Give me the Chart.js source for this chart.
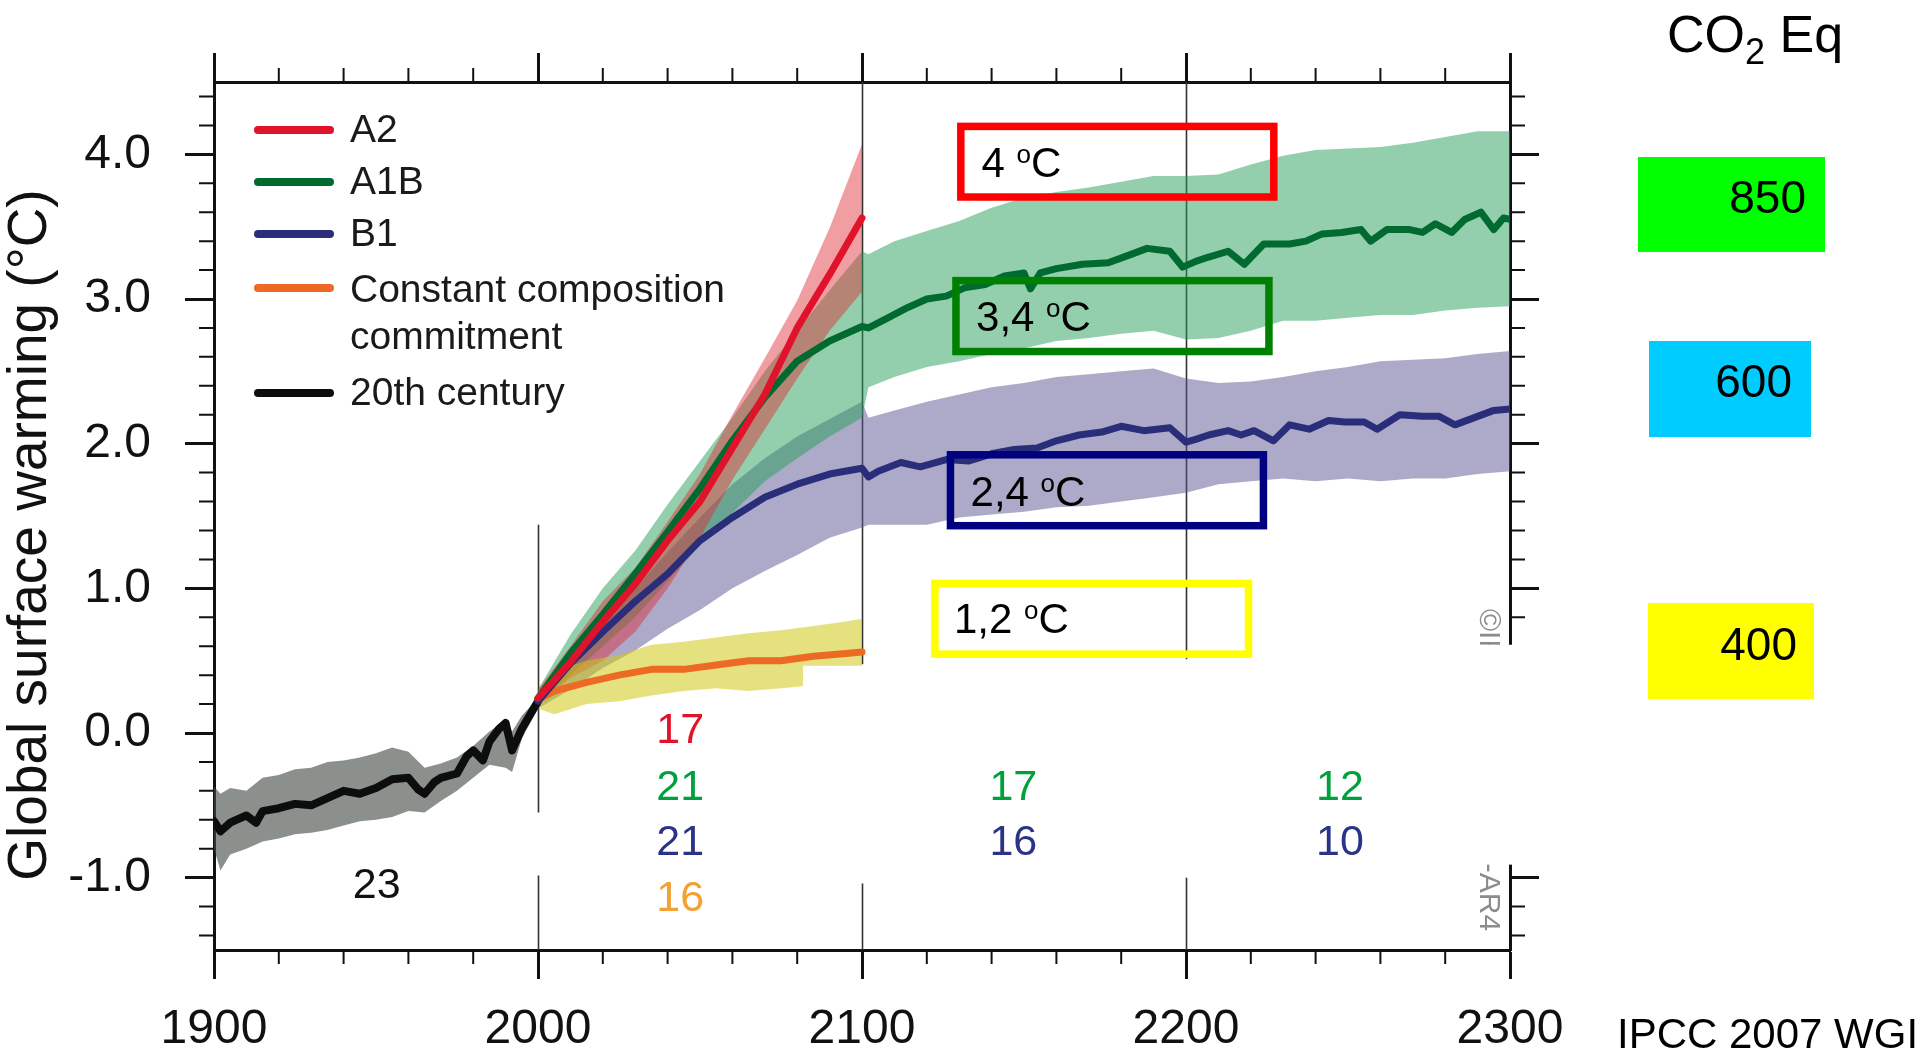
<!DOCTYPE html>
<html>
<head>
<meta charset="utf-8">
<title>Global surface warming – IPCC 2007 WGI</title>
<script src="https://cdn.jsdelivr.net/npm/chart.js@4.4.1/dist/chart.umd.min.js"></script>
<style>
  html, body { margin: 0; padding: 0; background: #fff; overflow: hidden; }
  canvas { display: block; }
</style>
</head>
<body>
<canvas id="warmingChart" width="1920" height="1053"></canvas>
<script>
// Values (°C relative to 1980-1999)

// 20th century
const histYears = [1900, 1902, 1905, 1910, 1913, 1915, 1920, 1925, 1930, 1935, 1940, 1945, 1950, 1955, 1960, 1963, 1965, 1968, 1970, 1975, 1978, 1980, 1983, 1985, 1988, 1990, 1992, 1995, 2000];
const histMean = [-0.61, -0.68, -0.62, -0.57, -0.62, -0.54, -0.52, -0.49, -0.50, -0.45, -0.40, -0.42, -0.38, -0.32, -0.31, -0.39, -0.42, -0.34, -0.31, -0.28, -0.16, -0.12, -0.19, -0.06, 0.03, 0.07, -0.12, 0.03, 0.22];
const histBandYears = [1900, 1902, 1905, 1910, 1915, 1920, 1925, 1930, 1935, 1940, 1945, 1950, 1955, 1960, 1965, 1970, 1975, 1980, 1985, 1990, 1992, 1995, 2000];
const histHigh = [-0.37, -0.42, -0.38, -0.40, -0.31, -0.29, -0.25, -0.24, -0.20, -0.19, -0.17, -0.14, -0.10, -0.13, -0.24, -0.21, -0.17, -0.09, 0.01, 0.09, 0.01, 0.12, 0.24];
const histLow = [-0.80, -0.95, -0.84, -0.80, -0.75, -0.73, -0.70, -0.69, -0.67, -0.64, -0.61, -0.60, -0.58, -0.54, -0.55, -0.47, -0.40, -0.31, -0.22, -0.24, -0.27, -0.04, 0.17];

// A2 (to 2100)
const yearsA2 = [2000, 2010, 2020, 2030, 2040, 2050, 2060, 2070, 2080, 2090, 2100];
const meanA2 = [0.24, 0.49, 0.77, 1.03, 1.33, 1.60, 1.97, 2.34, 2.80, 3.17, 3.56];
const highA2 = [0.30, 0.60, 0.91, 1.14, 1.46, 1.79, 2.20, 2.59, 2.99, 3.49, 4.07];
const lowA2 = [0.20, 0.38, 0.50, 0.70, 1.00, 1.35, 1.75, 2.10, 2.45, 2.78, 3.05];

// A1B and B1 ranges (to 2300)
const yearsLong = [2000, 2010, 2020, 2030, 2040, 2050, 2060, 2070, 2080, 2090, 2100,
                   2102, 2110, 2120, 2130, 2140, 2150, 2160, 2170, 2180, 2190, 2200,
                   2210, 2220, 2230, 2240, 2250, 2260, 2270, 2280, 2290, 2300];
const highA1B = [0.30, 0.68, 1.00, 1.26, 1.58, 1.88, 2.18, 2.50, 2.78, 3.06, 3.33,
                 3.31, 3.40, 3.47, 3.54, 3.63, 3.70, 3.74, 3.77, 3.81, 3.85, 3.85,
                 3.86, 3.93, 3.99, 4.03, 4.04, 4.05, 4.08, 4.12, 4.16, 4.16];
const lowA1B = [0.20, 0.40, 0.60, 0.80, 1.05, 1.30, 1.52, 1.74, 1.90, 2.05, 2.18,
                2.39, 2.46, 2.53, 2.57, 2.62, 2.66, 2.71, 2.73, 2.76, 2.78, 2.72,
                2.73, 2.78, 2.85, 2.85, 2.87, 2.89, 2.89, 2.92, 2.94, 2.95];
const highB1 = [0.28, 0.52, 0.76, 1.00, 1.25, 1.49, 1.72, 1.90, 2.05, 2.17, 2.29,
                2.18, 2.23, 2.29, 2.34, 2.39, 2.42, 2.46, 2.48, 2.50, 2.52, 2.45,
                2.42, 2.43, 2.46, 2.50, 2.53, 2.57, 2.58, 2.59, 2.62, 2.64];
const lowB1 = [0.17, 0.30, 0.45, 0.57, 0.72, 0.85, 1.00, 1.12, 1.23, 1.35, 1.42,
               1.44, 1.44, 1.44, 1.49, 1.51, 1.53, 1.56, 1.57, 1.60, 1.63, 1.66,
               1.72, 1.74, 1.76, 1.74, 1.76, 1.74, 1.76, 1.76, 1.79, 1.81];

// A1B and B1 multi-model means
const yearsA1BMean = [2000, 2010, 2020, 2030, 2040, 2050, 2060, 2070, 2080, 2090, 2100,
                      2102, 2108, 2114, 2120, 2126, 2132, 2138, 2144, 2150, 2152, 2155, 2160, 2168, 2176, 2182, 2188, 2195, 2199,
                      2203, 2207, 2213, 2218, 2224, 2232, 2237, 2242, 2248, 2254, 2257, 2262, 2269, 2273, 2277, 2282, 2286, 2291, 2295, 2298, 2300];
const meanA1B = [0.24, 0.55, 0.82, 1.10, 1.39, 1.69, 2.02, 2.32, 2.57, 2.71, 2.81,
                 2.80, 2.87, 2.94, 3.00, 3.02, 3.08, 3.10, 3.16, 3.18, 3.07, 3.18, 3.21, 3.24, 3.25, 3.30, 3.35, 3.33, 3.22,
                 3.26, 3.29, 3.33, 3.24, 3.38, 3.38, 3.40, 3.45, 3.46, 3.48, 3.40, 3.48, 3.48, 3.46, 3.52, 3.46, 3.55, 3.60, 3.48, 3.56, 3.55];
const yearsB1Mean = [2000, 2010, 2020, 2030, 2040, 2050, 2060, 2070, 2080, 2090, 2100,
                     2102, 2105, 2112, 2118, 2126, 2133, 2140, 2147, 2154, 2160, 2167, 2174, 2180, 2187, 2195, 2200,
                     2203, 2207, 2213, 2217, 2221, 2227, 2232, 2238, 2244, 2249, 2255, 2259, 2266, 2273, 2278, 2283, 2289, 2295, 2300];
const meanB1 = [0.22, 0.48, 0.70, 0.91, 1.10, 1.33, 1.49, 1.63, 1.72, 1.79, 1.83,
                1.77, 1.81, 1.87, 1.84, 1.89, 1.88, 1.93, 1.96, 1.97, 2.02, 2.06, 2.08, 2.12, 2.09, 2.11, 2.01,
                2.03, 2.06, 2.09, 2.06, 2.09, 2.02, 2.13, 2.10, 2.16, 2.15, 2.15, 2.10, 2.20, 2.19, 2.19, 2.13, 2.18, 2.23, 2.24];

// Constant composition commitment
const yearsCommit = [2000, 2005, 2015, 2025, 2035, 2045, 2055, 2065, 2075, 2085, 2095, 2100];
const meanCommit = [0.23, 0.29, 0.35, 0.40, 0.44, 0.44, 0.47, 0.50, 0.50, 0.53, 0.55, 0.56];
const highCommit = [0.28, 0.43, 0.50, 0.54, 0.61, 0.63, 0.66, 0.69, 0.71, 0.74, 0.77, 0.79];
const lowCommit = [0.17, 0.13, 0.20, 0.22, 0.26, 0.29, 0.31, 0.29, 0.31, 0.33, 0.35, 0.36];

// axis ticks
const xMajorTicks = [1900, 2000, 2100, 2200, 2300];
const yMajorTicks = [-1, 0, 1, 2, 3, 4];

// model counts written under the curves
const countYears = [1950.2, 2043.9, 2043.9, 2043.9, 2043.9, 2146.7, 2146.7, 2247.5, 2247.5];
const countLevels = [-1.06, 0.01, -0.38, -0.76, -1.15, -0.38, -0.76, -0.38, -0.76];
const countTexts = ['23', '17', '21', '21', '16', '17', '16', '12', '10'];
const countColors = ['#111111', '#e0132b', '#00a03c', '#2b3386', '#f5a033', '#00a03c', '#2b3386', '#00a03c', '#2b3386'];

// stabilisation boxes
const boxTexts = ['4', '3,4', '2,4', '1,2'];
const boxColors = ['#ff0000', '#008000', '#000080', '#ffff00'];

// CO2-equivalent column
const co2Values = ['850', '600', '400'];
const co2Colors = ['#00ff00', '#00ccff', '#ffff00'];

const FONT = "'Liberation Sans', Arial, sans-serif";

function pts(xs, ys) {
  return xs.map((x, i) => ({ x: x, y: ys[i] }));
}

function band(xs, hi, lo, color, order) {
  return [
    { data: pts(xs, hi), fill: '+1', backgroundColor: color, borderWidth: 0, borderColor: 'transparent', order: order },
    { data: pts(xs, lo), fill: false, borderWidth: 0, borderColor: 'transparent', order: order }
  ];
}

function meanLine(label, xs, ys, color, width, order) {
  return { label: label, data: pts(xs, ys), borderColor: color, borderWidth: width, fill: false,
           borderJoinStyle: 'round', borderCapStyle: 'round', order: order };
}

const datasets = [].concat(
  band(histBandYears, histHigh, histLow, 'rgba(70,76,70,0.62)', 20),
  band(yearsLong, highB1, lowB1, 'rgba(89,85,145,0.5)', 19),
  band(yearsLong, highA1B, lowA1B, 'rgba(40,160,90,0.5)', 18),
  band(yearsA2, highA2, lowA2, 'rgba(225,40,50,0.45)', 17),
  band(yearsCommit, highCommit, lowCommit, 'rgba(205,200,20,0.55)', 16),
  [
    meanLine('20th century', histYears, histMean, '#0d0d0d', 8, 5),
    meanLine('Constant composition commitment', yearsCommit, meanCommit, '#ec6a24', 7, 4),
    meanLine('B1', yearsB1Mean, meanB1, '#2a2e7a', 7, 3),
    meanLine('A1B', yearsA1BMean, meanA1B, '#006a30', 7, 2),
    meanLine('A2', yearsA2, meanA2, '#e0132b', 7, 1)
  ]
);

// thin century separators, broken where the original has white patches
const dividerPlugin = {
  id: 'dividers',
  beforeDatasetsDraw(chart) {
    const { ctx, scales: { x, y } } = chart;
    const segs = [[2000, 1.44, -0.55], [2000, -0.985, -1.5], [2100, 4.5, 0.475], [2100, -1.04, -1.5], [2200, 4.5, 0.51], [2200, -1.0, -1.5]];
    ctx.save();
    ctx.strokeStyle = '#333';
    ctx.lineWidth = 1.6;
    segs.forEach(s => {
      const xp = Math.round(x.getPixelForValue(s[0])) + 0.5;
      ctx.beginPath();
      ctx.moveTo(xp, y.getPixelForValue(s[1]));
      ctx.lineTo(xp, y.getPixelForValue(s[2]));
      ctx.stroke();
    });
    ctx.restore();
  }
};

const decorPlugin = {
  id: 'decor',
  afterDraw(chart) {
    const { ctx, chartArea: a, scales: { x, y } } = chart;
    ctx.save();

    // minor ticks
    ctx.strokeStyle = '#111';
    ctx.lineWidth = 2;
    ctx.beginPath();
    for (let yr = 1920; yr < 2300; yr += 20) {
      if (yr % 100 === 0) continue;
      const xp = x.getPixelForValue(yr);
      ctx.moveTo(xp, a.top); ctx.lineTo(xp, a.top - 14);
      ctx.moveTo(xp, a.bottom); ctx.lineTo(xp, a.bottom + 14);
    }
    for (let k = -7; k <= 22; k++) {
      if (k % 5 === 0) continue;
      const yp = y.getPixelForValue(k / 5);
      ctx.moveTo(a.left, yp); ctx.lineTo(a.left - 15, yp);
      ctx.moveTo(a.right, yp); ctx.lineTo(a.right + 15, yp);
    }
    ctx.stroke();

    // white patch hiding the lower end of the commitment band
    ctx.fillStyle = '#fff';
    const px0 = x.getPixelForValue(2081.8);
    ctx.fillRect(px0, y.getPixelForValue(0.465), 1468 - px0, y.getPixelForValue(-0.5) - y.getPixelForValue(0.465));

    // rotated copyright, partly hidden
    ctx.save();
    ctx.translate(1480, 609);
    ctx.rotate(Math.PI / 2);
    ctx.fillStyle = '#8c8c8c';
    ctx.font = '30px ' + FONT;
    ctx.textAlign = 'left';
    ctx.textBaseline = 'alphabetic';
    ctx.fillText('\u00A9IPCC 2007: WG1-AR4', 0, 0);
    ctx.restore();
    ctx.fillStyle = '#fff';
    ctx.fillRect(1466, y.getPixelForValue(0.61), 80, y.getPixelForValue(-0.91) - y.getPixelForValue(0.61));

    // model counts
    ctx.font = '43px ' + FONT;
    ctx.textAlign = 'center';
    ctx.textBaseline = 'middle';
    countTexts.forEach((t, i) => {
      ctx.fillStyle = countColors[i];
      ctx.fillText(t, x.getPixelForValue(countYears[i]), y.getPixelForValue(countLevels[i]));
    });

    // stabilisation boxes
    const boxX0 = [2130.5, 2129.0, 2127.3, 2122.5];
    const boxX1 = [2227.1, 2225.6, 2223.9, 2219.3];
    const boxYTop = [4.193, 3.127, 1.923, 1.034];
    const boxYBot = [3.705, 2.637, 1.433, 0.545];
    const textX = [2136.9, 2135.2, 2133.5, 2128.4];
    const textBase = [3.840, 2.779, 1.568, 0.689];
    boxTexts.forEach((t, i) => {
      const l = x.getPixelForValue(boxX0[i]), r = x.getPixelForValue(boxX1[i]);
      const tp = y.getPixelForValue(boxYTop[i]), bt = y.getPixelForValue(boxYBot[i]);
      ctx.strokeStyle = boxColors[i];
      ctx.lineWidth = 7.5;
      ctx.strokeRect(l, tp, r - l, bt - tp);
      let tx = x.getPixelForValue(textX[i]);
      const ty = y.getPixelForValue(textBase[i]);
      ctx.fillStyle = '#000';
      ctx.textAlign = 'left';
      ctx.textBaseline = 'alphabetic';
      ctx.font = '42px ' + FONT;
      ctx.fillText(t + ' ', tx, ty);
      tx += ctx.measureText(t + ' ').width;
      ctx.font = '26px ' + FONT;
      ctx.fillText('o', tx, ty - 14);
      tx += ctx.measureText('o').width;
      ctx.font = '42px ' + FONT;
      ctx.fillText('C', tx, ty);
    });

    // legend
    const lines = chart.data.datasets.filter(d => d.label);
    const legendOrder = ['A2', 'A1B', 'B1', 'Constant composition commitment', '20th century'];
    const rowY = [130, 182, 234, 288, 393];
    ctx.font = '39px ' + FONT;
    ctx.textBaseline = 'middle';
    ctx.lineCap = 'round';
    legendOrder.forEach((lab, i) => {
      const ds = lines.find(d => d.label === lab);
      ctx.strokeStyle = ds.borderColor;
      ctx.lineWidth = 8;
      ctx.beginPath();
      ctx.moveTo(258, rowY[i]);
      ctx.lineTo(330, rowY[i]);
      ctx.stroke();
      ctx.fillStyle = '#1a1a1a';
      if (lab.startsWith('Constant')) {
        ctx.fillText('Constant composition', 350, rowY[i] + 3);
        ctx.fillText('commitment', 350, rowY[i] + 50);
      } else {
        ctx.fillText(lab, 350, rowY[i] + 1);
      }
    });

    // y axis title
    ctx.save();
    ctx.translate(46, 535);
    ctx.rotate(-Math.PI / 2);
    ctx.fillStyle = '#111';
    ctx.font = '55px ' + FONT;
    ctx.textAlign = 'center';
    ctx.textBaseline = 'alphabetic';
    ctx.fillText('Global surface warming (\u00B0C)', 0, 0);
    ctx.restore();

    // CO2 eq column
    ctx.fillStyle = '#000';
    ctx.textAlign = 'left';
    ctx.textBaseline = 'alphabetic';
    ctx.font = '52px ' + FONT;
    ctx.fillText('CO', 1667, 52);
    let cx = 1667 + ctx.measureText('CO').width;
    ctx.font = '36px ' + FONT;
    ctx.fillText('2', cx, 64);
    cx += ctx.measureText('2').width;
    ctx.font = '52px ' + FONT;
    ctx.fillText(' Eq', cx, 52);

    const co2Box = [[1638, 157, 187, 95], [1649, 341, 162, 96], [1648, 603, 166, 96]];
    const co2TextRight = [1806, 1792, 1797];
    const co2Base = [213, 397, 660];
    ctx.font = '46px ' + FONT;
    ctx.textAlign = 'right';
    co2Values.forEach((v, i) => {
      const b = co2Box[i];
      ctx.fillStyle = co2Colors[i];
      ctx.fillRect(b[0], b[1], b[2], b[3]);
      ctx.fillStyle = '#000';
      ctx.fillText(v, co2TextRight[i], co2Base[i]);
    });

    // source
    ctx.textAlign = 'left';
    ctx.font = '42px ' + FONT;
    ctx.fillStyle = '#000';
    ctx.fillText('IPCC 2007 WGI', 1617, 1048);

    ctx.restore();
  }
};

const axisGrid = { drawOnChartArea: false, drawTicks: true, tickLength: 29, tickWidth: 3, tickColor: '#111' };
const axisBorder = { display: true, width: 3, color: '#111' };

const ctx = document.getElementById('warmingChart').getContext('2d');
const warmingChart = new Chart(ctx, {
  type: 'line',
  data: { datasets: datasets },
  options: {
    responsive: false,
    animation: false,
    events: [],
    layout: { padding: 0 },
    elements: { point: { radius: 0 }, line: { tension: 0 } },
    plugins: { legend: { display: false }, tooltip: { enabled: false }, title: { display: false } },
    scales: {
      x: {
        type: 'linear', position: 'bottom', min: 1900, max: 2300,
        afterBuildTicks: s => { s.ticks = xMajorTicks.map(v => ({ value: v })); },
        afterFit: s => { s.height = 103; },
        ticks: { autoSkip: false, maxRotation: 0, padding: 22, color: '#111', font: { family: FONT, size: 48 }, callback: v => String(v) },
        grid: axisGrid, border: axisBorder
      },
      xTop: {
        type: 'linear', position: 'top', min: 1900, max: 2300,
        afterBuildTicks: s => { s.ticks = xMajorTicks.map(v => ({ value: v })); },
        afterFit: s => { s.height = 82; },
        ticks: { display: false },
        grid: axisGrid, border: axisBorder
      },
      y: {
        type: 'linear', position: 'left', min: -1.5, max: 4.5,
        afterBuildTicks: s => { s.ticks = yMajorTicks.map(v => ({ value: v })); },
        afterFit: s => { s.width = 214; },
        ticks: { padding: 34, color: '#111', font: { family: FONT, size: 48 }, callback: v => v.toFixed(1) },
        grid: axisGrid, border: axisBorder
      },
      yRight: {
        type: 'linear', position: 'right', min: -1.5, max: 4.5,
        afterBuildTicks: s => { s.ticks = yMajorTicks.map(v => ({ value: v })); },
        afterFit: s => { s.width = 410; },
        ticks: { display: false },
        grid: axisGrid, border: axisBorder
      }
    }
  },
  plugins: [dividerPlugin, decorPlugin]
});
</script>
</body>
</html>
